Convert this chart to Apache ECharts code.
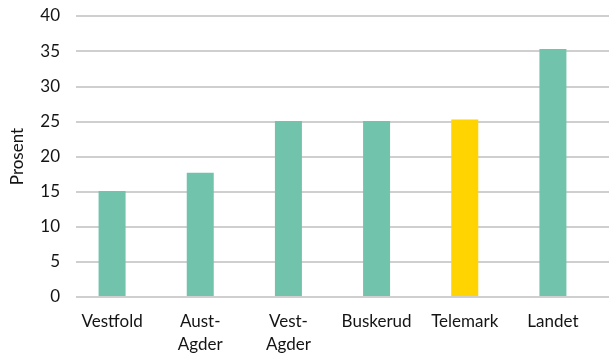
<!DOCTYPE html>
<html>
<head>
<meta charset="utf-8">
<script src="https://cdn.jsdelivr.net/npm/echarts@6/dist/echarts.min.js"></script>
<style>
  html, body { margin: 0; padding: 0; background: #fff; }
  #chart { width: 610px; height: 356px; }
</style>
</head>
<body>
<div id="chart"></div>
<script>
  // data
  const fylker = ['Vestfold', 'Aust-\nAgder', 'Vest-\nAgder', 'Buskerud', 'Telemark', 'Landet'];
  const prosent = [15.0, 17.6, 25.0, 25.0, 25.2, 35.3];
  const highlight = 'Telemark';

  const teal = '#71c3ac';
  const yellow = '#ffd400';
  const gridGray = '#bfbfbf';
  const font = 'Lato';
  const textColor = '#141414';

  let chart = echarts.init(document.getElementById('chart'));
  chart.setOption({
    animation: false,
    grid: [
      // bars
      { left: 68, right: 13, top: 16, bottom: 59 },
      // gridlines + y labels
      { left: 76, right: 1, top: 16, bottom: 59 }
    ],
    xAxis: [
      {
        gridIndex: 0,
        type: 'category',
        data: fylker,
        axisLine: { show: false },
        axisTick: { show: false },
        axisLabel: {
          color: textColor,
          fontFamily: font,
          fontSize: 17,
          lineHeight: 23,
          margin: 14,
          interval: 0
        }
      },
      {
        gridIndex: 1,
        type: 'value',
        min: 0,
        max: 1,
        show: false
      }
    ],
    yAxis: [
      {
        gridIndex: 0,
        type: 'value',
        min: 0,
        max: 40,
        interval: 5,
        show: false
      },
      {
        gridIndex: 1,
        type: 'value',
        min: 0,
        max: 40,
        interval: 5,
        name: 'Prosent',
        nameLocation: 'middle',
        nameGap: 50,
        nameTextStyle: { color: textColor, fontFamily: font, fontSize: 17 },
        axisLine: { show: false },
        axisTick: { show: false },
        axisLabel: { color: textColor, fontFamily: font, fontSize: 17, margin: 16 },
        splitLine: { lineStyle: { color: gridGray, width: 1.5 } }
      }
    ],
    series: [
      {
        type: 'bar',
        xAxisIndex: 0,
        yAxisIndex: 0,
        barWidth: 27,
        data: prosent.map((v, i) => ({
          value: v,
          itemStyle: { color: fylker[i] === highlight ? yellow : teal }
        }))
      }
    ]
  });
</script>
</body>
</html>
